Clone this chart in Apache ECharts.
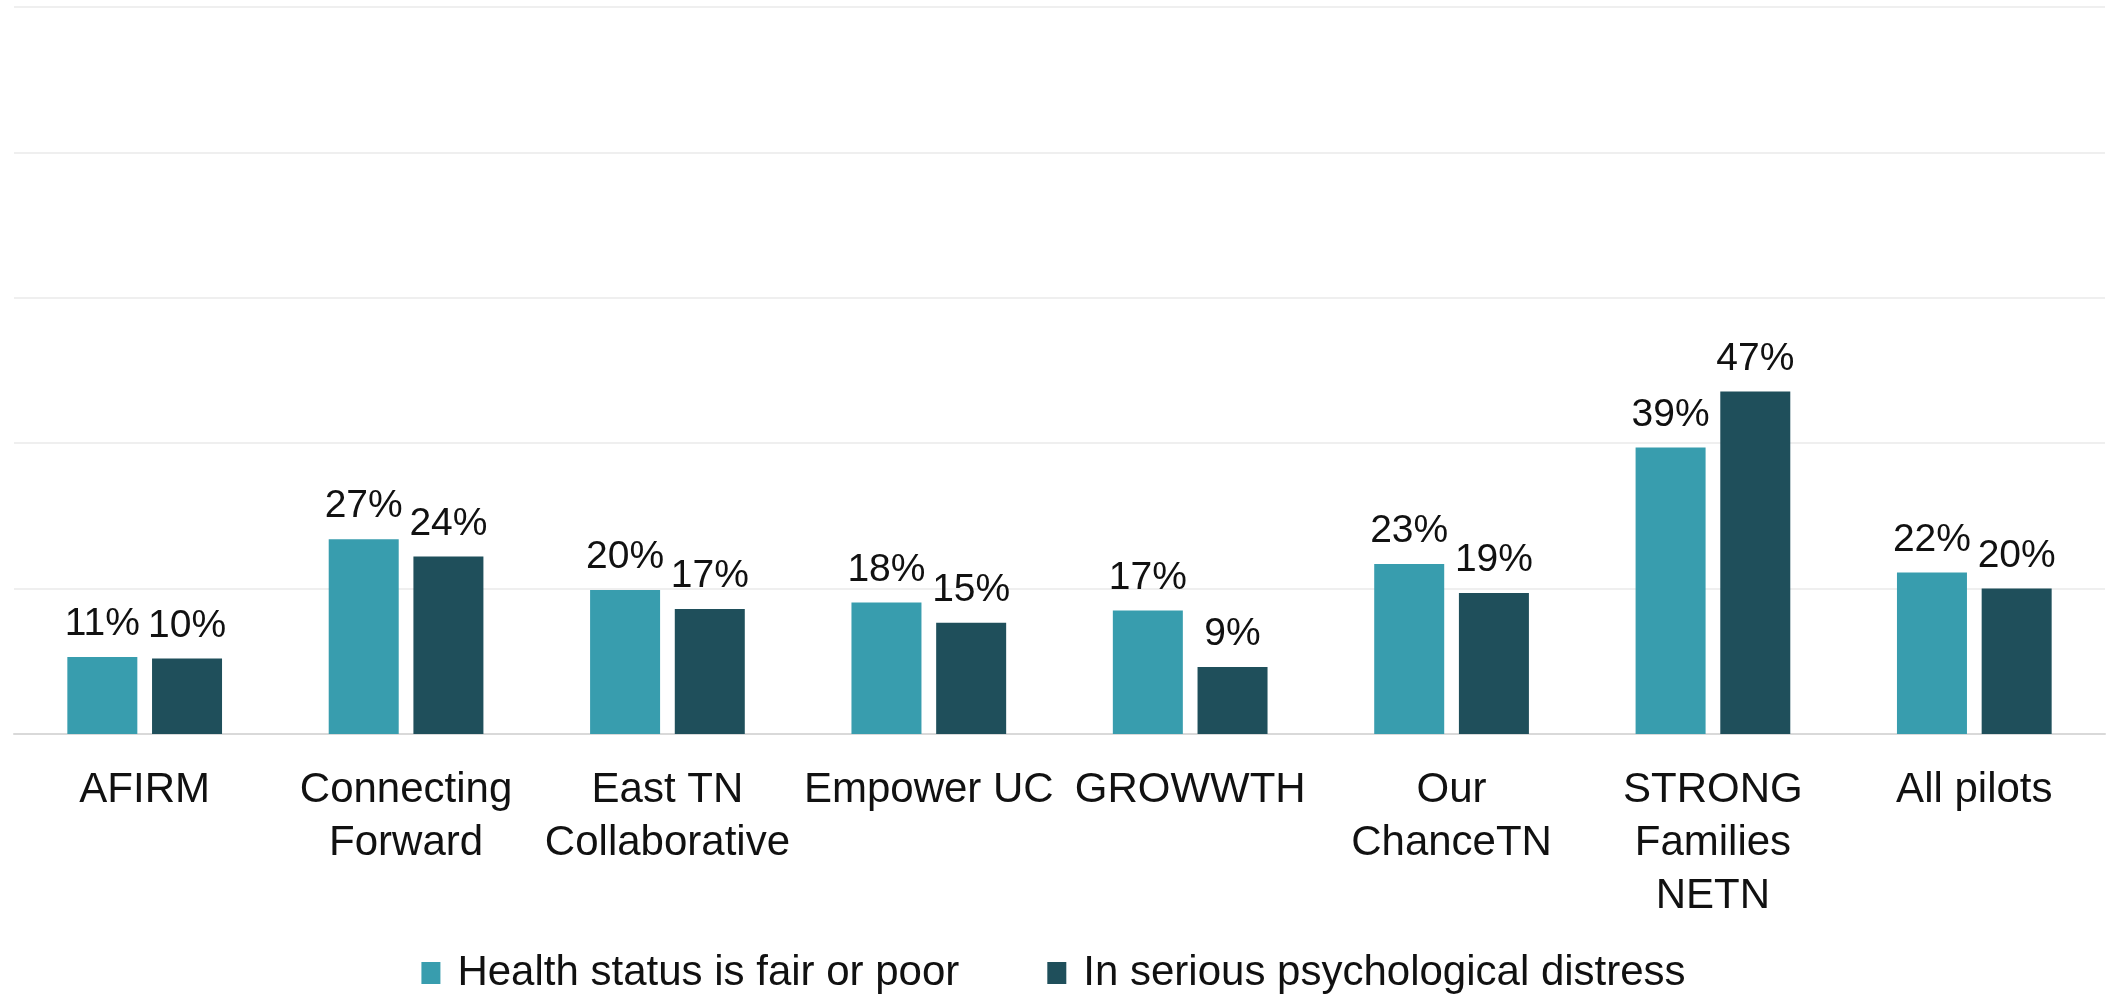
<!DOCTYPE html>
<html lang="en">
<head>
	<meta charset="UTF-8">
	<title>Health status and psychological distress by pilot</title>
	<script src="https://cdn.jsdelivr.net/npm/echarts@6/dist/echarts.min.js"></script>
	<style>
		html, body { margin: 0; padding: 0; background: #fff; }
	</style>
</head>
<body>
	<div id="main" style="width: 2107px; height: 996px;"></div>
	<script>
		// pilot names (line breaks as in the original)
		var categories = [
			'AFIRM',
			'Connecting\nForward',
			'East TN\nCollaborative',
			'Empower UC',
			'GROWWTH',
			'Our\nChanceTN',
			'STRONG\nFamilies\nNETN',
			'All pilots'
		]
		var seriesNames = ['Health status is fair or poor', 'In serious psychological distress']
		// percent values
		var healthPoor = [10.6, 26.8, 19.8, 18.1, 17.0, 23.4, 39.4, 22.2]
		var distress = [10.4, 24.4, 17.2, 15.3, 9.2, 19.4, 47.1, 20.0]
		var colors = ['#389DAE', '#1F4F5B']

		var myChart = echarts.init(document.getElementById('main'))

		var labelStyle = {
			show: true,
			position: 'top',
			distance: 13,
			color: '#111',
			fontFamily: 'Liberation Sans',
			fontSize: 39,
			formatter: function (p) {
				return Math.round(p.value) + '%'
			}
		}

		option = {
			animation: false,
			textStyle: { fontFamily: 'Liberation Sans' },
			legend: {
				data: seriesNames,
				left: 'center',
				top: 947,
				itemWidth: 19,
				itemHeight: 22,
				itemGap: 88,
				icon: 'rect',
				textStyle: {
					color: '#111',
					fontSize: 42,
					padding: [0, 0, 0, 12]
				}
			},
			grid: {
				left: 14,
				right: 2,
				top: 7,
				bottom: 262,
				containLabel: false
			},
			xAxis: {
				type: 'category',
				data: categories,
				axisTick: { show: false },
				axisLine: { lineStyle: { color: '#D9D9D9', width: 2 } },
				axisLabel: {
					color: '#111',
					fontSize: 42,
					lineHeight: 53,
					margin: 30,
					interval: 0
				}
			},
			yAxis: {
				type: 'value',
				min: 0,
				max: 100,
				interval: 20,
				axisLabel: { show: false },
				axisLine: { show: false },
				axisTick: { show: false },
				splitLine: { lineStyle: { color: '#EFEFEF', width: 2 } }
			},
			series: [
				{
					name: seriesNames[0],
					type: 'bar',
					data: healthPoor,
					barWidth: 70,
					barGap: '21%',
					itemStyle: { color: colors[0] },
					label: labelStyle
				},
				{
					name: seriesNames[1],
					type: 'bar',
					data: distress,
					barWidth: 70,
					barGap: '21%',
					itemStyle: { color: colors[1] },
					label: labelStyle
				}
			]
		}
		myChart.setOption(option)
	</script>
</body>
</html>
